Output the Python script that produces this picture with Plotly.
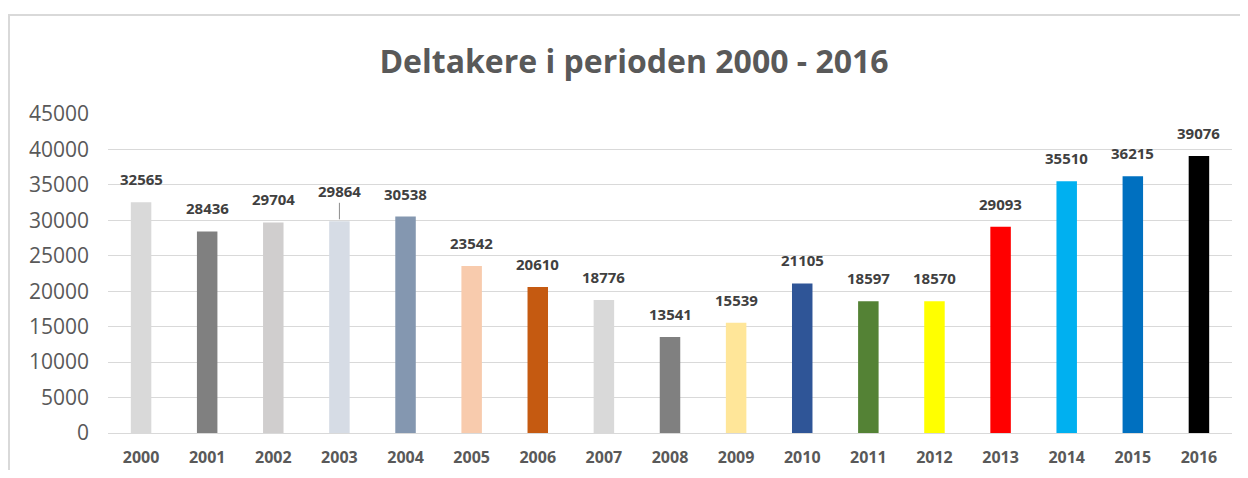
import plotly.graph_objects as go

years = ["2000", "2001", "2002", "2003", "2004", "2005", "2006", "2007", "2008",
         "2009", "2010", "2011", "2012", "2013", "2014", "2015", "2016"]
deltakere = [32565, 28436, 29704, 29864, 30538, 23542, 20610, 18776, 13541,
             15539, 21105, 18597, 18570, 29093, 35510, 36215, 39076]
colors = ["#D9D9D9", "#808080", "#D0CECE", "#D6DCE5", "#8497B0", "#F8CBAD", "#C55A11",
          "#D9D9D9", "#808080", "#FFE699", "#2F5597", "#548235", "#FFFF00", "#FF0000",
          "#00B0F0", "#0070C0", "#000000"]
title_text = "Deltakere i perioden 2000 - 2016"
y_ticks = [0, 5000, 10000, 15000, 20000, 25000, 30000, 35000, 40000, 45000]

FONT = "Open Sans"
# page has an 8px body margin, so the figure is kept within the 1248x478 window
W, H = 1232, 462
L, R, T, B = 100, 8, 106, 37
PW, PH = W - L - R, H - T - B

fig = go.Figure(go.Bar(
    x=years, y=deltakere, marker=dict(color=colors, line=dict(width=0)),
    hoverinfo="x+y",
))

annotations = []
for i, (yr, v) in enumerate(zip(years, deltakere)):
    if yr == "2003":
        annotations.append(dict(
            x=i, y=v, xref="x", yref="y", text=f"<b>{v}</b>",
            showarrow=True, arrowhead=0, arrowwidth=1, arrowcolor="#8C8C8C",
            ax=0, ay=-30, standoff=2,
            font=dict(family=FONT, size=15, color="#404040")))
    else:
        annotations.append(dict(
            x=i, y=v, xref="x", yref="y", text=f"<b>{v}</b>",
            showarrow=False, yanchor="bottom", yshift=11,
            font=dict(family=FONT, size=15, color="#404040")))

fx = lambda px: (px - L) / PW
fy = lambda py: (H - B - py) / PH

fig.update_layout(
    width=W, height=H,
    margin=dict(l=L, r=R, t=T, b=B),
    paper_bgcolor="white", plot_bgcolor="white",
    bargap=0.69,
    showlegend=False,
    title=dict(text=f"<b>{title_text}</b>", x=626/W, xref="container", xanchor="center",
               y=1 - 54/H, yref="container", yanchor="middle",
               font=dict(family=FONT, size=32, color="#595959")),
    annotations=annotations,
    xaxis=dict(type="category", range=[-0.5, 16.5], showgrid=False, showline=True,
               linecolor="#D9D9D9", linewidth=1, automargin=False,
               ticks="", ticklabelstandoff=10,
               tickfont=dict(family=FONT, size=16, color="#595959", weight="bold")),
    yaxis=dict(range=[0, 45000], tickvals=y_ticks, tickformat="d", showgrid=True,
               gridcolor="#D9D9D9", automargin=False,
               gridwidth=1, zeroline=False, showline=False, ticks="", ticklabelstandoff=18,
               tickfont=dict(family=FONT, size=21, color="#595959")),
    shapes=[
        dict(type="line", xref="paper", yref="paper", x0=fx(0), x1=fx(W + 10),
             y0=fy(7), y1=fy(7), line=dict(color="#D9D9D9", width=2)),
        dict(type="line", xref="paper", yref="paper", x0=fx(1), x1=fx(1),
             y0=fy(7), y1=fy(H + 10), line=dict(color="#D9D9D9", width=2)),
    ],
)

fig.write_html("out.html")
